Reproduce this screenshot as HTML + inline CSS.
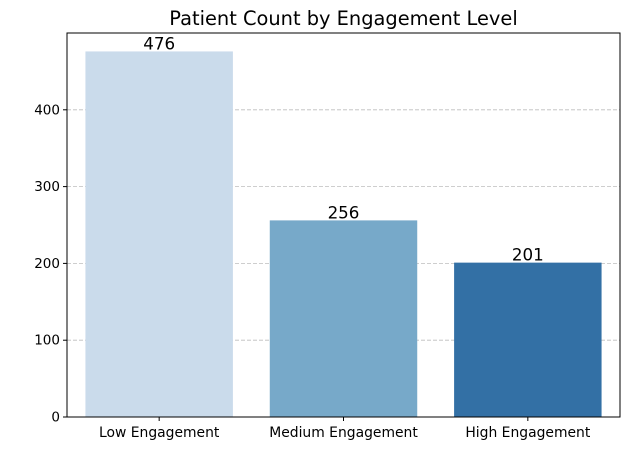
<!DOCTYPE html>
<html><head><meta charset="utf-8"><style>
body{margin:0;background:#fff;}
svg{display:block;font-family:"DejaVu Sans","Liberation Sans",sans-serif;}
</style></head><body>
<svg id="chart" width="630" height="470" viewBox="0 0 630 470">
<text x="343.5" y="25" text-anchor="middle" font-size="19.4" fill="#000">Patient Count by Engagement Level</text>
<g id="grid"></g><g id="bars"></g><g id="axes"></g>
</svg>
<script>
const categories=["Low Engagement","Medium Engagement","High Engagement"];
const values=[476,256,201];
const colors=["#cadbeb","#77a9c9","#3370a5"];
const yTicks=[0,100,200,300,400];
const L=67,R=620,T=33,B=417,yMax=500;
const ns="http://www.w3.org/2000/svg";
const xs=i=>L+(i+0.5)*(R-L)/3;
const ys=v=>B-v*(B-T)/yMax;
const bw=0.8*(R-L)/3;
function mk(tag,attrs,parent){const e=document.createElementNS(ns,tag);for(const k in attrs)e.setAttribute(k,attrs[k]);document.querySelector(parent).appendChild(e);return e;}
yTicks.forEach(t=>{
 if(t>0){const g=mk("line",{x1:L,x2:R,y1:ys(t),y2:ys(t),stroke:"#bdbdbd","stroke-dasharray":"4,2","stroke-width":0.8},"#grid");
 
 }
 const tk=mk("line",{x1:L-4,x2:L,y1:ys(t),y2:ys(t),stroke:"#000"},"#axes");
 
 
 const lb=mk("text",{x:L-7,y:ys(t)+4.5,"text-anchor":"end","font-size":13.5},"#axes");lb.textContent=t;
 
 
});
categories.forEach((c,i)=>{
 const r=mk("rect",{x:xs(i)-bw/2,y:ys(values[i]),width:bw,height:B-ys(values[i]),fill:colors[i]},"#bars");
 
 
 const v=mk("text",{x:xs(i),y:ys(values[i])-2,"text-anchor":"middle","font-size":16.7},"#bars");v.textContent=values[i];
 
 
 const tk=mk("line",{x1:xs(i),x2:xs(i),y1:B,y2:B+4,stroke:"#000"},"#axes");
 
 
 const lb=mk("text",{x:xs(i),y:B+20,"text-anchor":"middle","font-size":13.9},"#axes");lb.textContent=c;
 
 
});
const fr=mk("rect",{x:L,y:T,width:R-L,height:B-T,fill:"none",stroke:"#000","stroke-width":1},"#axes");


</script>
</body></html>
